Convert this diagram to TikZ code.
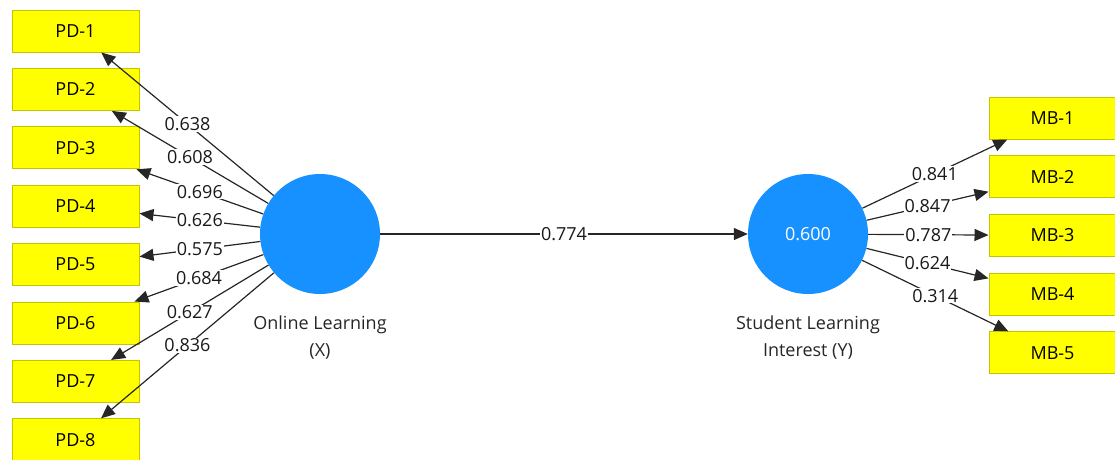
\documentclass[tikz,border=0pt]{standalone}
\usepackage{fontspec}
\setmainfont{Open Sans}
\usetikzlibrary{arrows.meta}
\definecolor{boxyellow}{RGB}{255,255,0}
\definecolor{boxedge}{RGB}{196,196,0}
\definecolor{latblue}{RGB}{22,145,255}

\begin{document}
\begin{tikzpicture}[x=1pt, y=-1pt,
  ind/.style={draw=boxedge, fill=boxyellow, line width=1pt, minimum width=127pt,
    minimum height=42pt, inner sep=0pt, font=\fontsize{18}{21}\selectfont},
  lat/.style={circle, fill=latblue, minimum size=120pt, inner sep=0pt,
    text=white, font=\fontsize{18}{21}\selectfont},
  latname/.style={align=center, text=black!85, font=\fontsize{18}{27}\selectfont},
  load/.style={fill=white, inner sep=1pt, text=black!90, font=\fontsize{18}{21}\selectfont},
  arr/.style={-{Triangle[length=14pt,width=12pt]}, line width=1.2pt, draw=black!85}]
\useasboundingbox (0,0) rectangle (1115,459);

% latent variables
\node[lat] (X) at (320,234) {};
\node[lat] (Y) at (808,234) {0.600};
\node[latname] (Xname) at (320,338) {Online Learning\\(X)};
\node[latname] (Yname) at (808,338) {Student Learning\\Interest (Y)};

% indicators
\foreach \i/\yy in {1/31, 2/89.4, 3/147.8, 4/206.2, 5/264.6, 6/323, 7/381.4, 8/439.8}
  \node[ind] (PD\i) at (75.5,\yy) {PD-\i};
\foreach \i/\yy in {1/118, 2/176.7, 3/235.4, 4/294.1, 5/352.8}
  \node[ind] (MB\i) at (1052.5,\yy) {MB-\i};

% paths
\foreach \i in {1,...,8}
  \draw[arr] (X) -- (PD\i);
\foreach \i in {1,...,5}
  \draw[arr] (Y) -- (MB\i);
\draw[arr] (X) -- (Y);

% loadings
\foreach \i/\v in {1/0.638, 2/0.608, 3/0.696, 4/0.626, 5/0.575, 6/0.684, 7/0.627, 8/0.836}
  \path (X) -- (PD\i) node[load, midway] {\v};
\foreach \i/\v in {1/0.841, 2/0.847, 3/0.787, 4/0.624, 5/0.314}
  \path (Y) -- (MB\i) node[load, midway] {\v};
\path (X) -- (Y) node[load, midway] {0.774};
\end{tikzpicture}
\end{document}
